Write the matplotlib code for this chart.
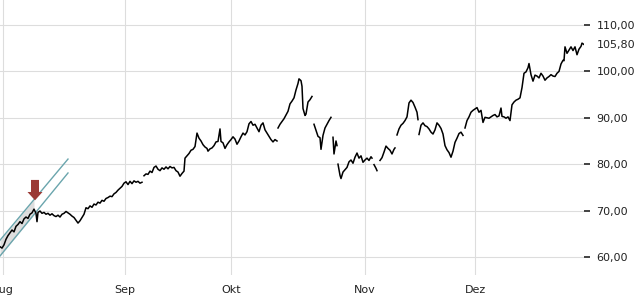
import matplotlib
matplotlib.use('Agg')
import matplotlib.pyplot as plt
from matplotlib.patches import FancyArrow
import numpy as np

# price trace (x in chart units, None marks a gap in the line)
xs = [0, 2, 4, 6, 8, 10, 12, 14, 16, 18, 20, 22, 24, 26, 28, 30, 32, 34, 36, 37, 38, 40,
      42, 44, 46, 48, 50, 52, 54, 56, 58, 60, 62, 64, 66, 68, 70, 72, 74, 76, 78, 80, 82,
      84, 86, 88, 90, 92, 94, 96, 98, 100, 102, 104, 106, 108, 110, 112, 114, 116, 118,
      120, 122, 124, 126, 128, 130, 132, 134, 136, 138, 140, 142, 143,
      144, 146, 148, 150, 152, 154, 156, 158, 160, 162, 164, 166, 168, 170, 172, 174, 176,
      178, 180, 182, 184, 185, 187, 189, 191, 193, 195, 197, 199, 201, 203, 205, 207, 208,
      210, 212, 214, 216, 218, 220, 221, 223, 225, 227, 229, 231, 233, 235, 237, 239, 241,
      243, 245, 247, 249, 251, 253, 255, 257, 259, 261, 263, 265, 267, 269, 271, 273, 275,
      277, 277.5,
      278, 280, 282, 284, 286, 288, 290, 292, 294, 296, 298, 299, 301, 302, 303, 305, 306,
      308, 310, 312, 313,
      314, 316, 318, 320, 321, 323, 325, 327, 329, 331, 332,
      333, 334, 336, 337, 337.5,
      338, 340, 341, 343, 345, 347, 349, 351, 353, 355, 357, 359, 361, 363, 365, 367, 369,
      371, 372, 373,
      374, 376, 377, 378,
      380, 382, 384, 386, 388, 390, 392, 394, 395, 396,
      397, 399, 401, 403, 405, 407, 409, 411, 413, 415, 417, 418, 418.5,
      419, 421, 423, 425, 427, 429, 431, 433, 435, 437, 439, 441, 443, 445, 447, 449, 451,
      453, 455, 457, 459, 461, 463, 464,
      465, 467, 469, 471, 473, 475, 477, 479, 481, 483, 485, 487, 489, 491, 493, 495, 497,
      499, 501, 502, 504, 506, 508, 510, 512, 514, 516, 518, 520, 522, 524, 526, 528, 529,
      531, 533, 535, 537, 539, 541, 543, 545, 547, 549, 551, 553, 555, 557, 559, 561, 563,
      564, 565, 567, 569, 571, 573, 575, 577, 579, 581, 582, 584]
prices = [62.2, 61.9, 62.6, 63.8, 64.6, 65.2, 65.8, 65.4, 66.6, 67.0, 67.6, 67.2, 68.2, 68.6,
          68.3, 69.2, 69.5, 70.3, 69.4, 67.6, 69.6, 69.9,
          69.4, 69.6, 69.2, 69.4, 69.0, 69.3, 68.9, 68.7, 69.0, 68.6, 69.2, 69.4, 69.8, 69.5,
          69.2, 68.8, 68.5, 67.9, 67.3, 67.8, 68.5,
          69.2, 70.6, 70.4, 71.0, 70.7, 71.4, 71.2, 71.8, 71.6, 72.2, 72.0, 72.6, 72.8, 73.1,
          73.0, 73.6, 73.9, 74.4,
          74.8, 75.2, 75.9, 76.2, 75.6, 76.3, 75.8, 76.4, 76.1, 76.3, 75.9, 76.1, None,
          77.5, 77.9, 77.8, 78.5, 78.2, 79.3, 79.6, 78.9, 78.6, 79.2, 78.9, 79.4, 79.0, 79.5,
          79.2, 79.3, 78.6,
          78.3, 77.4, 78.0, 78.5, 81.3, 81.8, 82.3, 83.0, 83.2, 83.8, 86.7, 85.6, 85.0, 84.2,
          83.7, 83.4, 82.8,
          83.3, 83.5, 84.0, 84.8, 84.9, 87.6, 84.9, 84.6, 83.4, 84.2, 84.8, 85.3, 85.9, 85.4,
          84.3, 85.0, 85.9,
          86.7, 86.3, 87.0, 88.7, 89.2, 88.4, 88.6, 87.8, 87.0, 88.4, 88.9, 87.4, 86.7, 86.0,
          85.3, 84.8, 85.3,
          85.0, None,
          87.8, 88.6, 89.2, 89.8, 90.6, 91.4, 93.0, 93.6, 94.3, 96.0, 97.4, 98.4, 98.0, 96.8,
          92.0, 90.5, 90.8,
          93.4, 93.9, 94.6, None,
          88.6, 87.3, 86.0, 85.7, 83.2, 86.2, 87.8, 88.6, 89.4, 90.1, None,
          85.8, 82.2, 85.0, 84.0, None,
          80.0, 77.6, 76.9, 78.3, 78.8, 79.3, 80.5, 80.9, 80.2, 81.5, 82.4, 81.3, 81.8, 80.4,
          80.9, 81.3, 80.8,
          81.6, 81.3, None,
          79.9, 79.1, 78.6, None,
          80.8, 81.4, 82.6, 83.9, 83.4, 83.0, 82.2, 83.2, 83.5, None,
          86.3, 87.6, 88.4, 88.8, 89.4, 90.2, 93.2, 93.8, 93.3, 92.3, 91.2, 89.6, None,
          86.4, 88.4, 88.9, 88.3, 88.1, 87.6, 86.9, 86.5, 87.4, 88.9, 88.4, 87.7, 86.5, 84.0,
          83.1, 82.5, 81.5,
          82.8, 84.7, 85.6, 86.6, 86.9, 86.2, None,
          87.8, 89.4, 90.2, 91.2, 91.6, 91.9, 92.2, 91.2, 91.6, 89.0, 90.1, 90.0, 89.9, 90.2,
          90.5, 90.7, 90.2,
          90.4, 92.1, 90.3, 90.2, 89.9, 90.2, 89.4, 92.8, 93.4, 93.8, 94.0, 94.3, 96.5, 99.6,
          99.9, 100.8, 101.7,
          99.3, 97.9, 99.2, 99.0, 98.6, 99.6, 99.0, 98.1, 98.6, 98.9, 99.3, 99.0, 98.9, 99.6,
          100.0, 101.6, 102.4,
          102.3, 105.3, 103.9, 104.6, 105.3, 104.5, 105.3, 103.6, 104.8, 105.4, 106.1, 105.8]

month_labels = ['Aug', 'Sep', 'Okt', 'Nov', 'Dez']
month_pos = [3, 125, 231, 365, 475]
y_ticks = [60, 70, 80, 90, 100, 110]
last_price = 105.80

# trend channel: (x, price) end points of upper and lower line, fill up to channel_fill_end
channel_x = [0, 68]
channel_upper = [63.6, 81.1]
channel_lower = [60.2, 78.1]
channel_fill_end = 34

# signal arrow
arrow_x = 35
arrow_top = 76.6
arrow_tip = 72.2

y = np.array([np.nan if p is None else p for p in prices], dtype=float)

fig = plt.figure(figsize=(6.4, 3.0), dpi=100)
ax = fig.add_axes([0.0, 25 / 300, 584 / 640, 275 / 300])

ax.grid(True, color='#dddddd', linewidth=0.8)
ax.set_axisbelow(True)

# channel fill
fx = np.array([channel_x[0], channel_fill_end])
slope_u = (channel_upper[1] - channel_upper[0]) / (channel_x[1] - channel_x[0])
slope_l = (channel_lower[1] - channel_lower[0]) / (channel_x[1] - channel_x[0])
ax.fill_between(fx, channel_lower[0] + slope_l * fx, channel_upper[0] + slope_u * fx,
                color='#d6d6d6', alpha=0.8, linewidth=0, zorder=1)
ax.plot(channel_x, channel_upper, color='#6aa5ad', linewidth=1.0, zorder=2)
ax.plot(channel_x, channel_lower, color='#6aa5ad', linewidth=1.0, zorder=2)

ax.plot(xs, y, color='black', linewidth=1.1, zorder=3)

ax.add_patch(FancyArrow(arrow_x, arrow_top, 0, arrow_tip - arrow_top, width=8,
                        head_width=15, head_length=1.8, length_includes_head=True,
                        color='#9b3a35', linewidth=0, zorder=4))

ax.set_xlim(0, 584)
ax.set_ylim(56.1, 115.4)

ax.set_xticks(month_pos)
ax.set_xticklabels(month_labels)
ax.set_yticks(y_ticks)
ax.set_yticklabels([f'{v:.2f}'.replace('.', ',') for v in y_ticks])
ax.yaxis.tick_right()
ax.tick_params(axis='y', direction='out', length=4, width=1.2, color='#222222',
               pad=5, labelsize=8, labelcolor='#222222')
ax.tick_params(axis='x', length=0, pad=7, labelsize=8, labelcolor='#222222')

ax.annotate(f'{last_price:.2f}'.replace('.', ','), xy=(1, last_price),
            xycoords=('axes fraction', 'data'), xytext=(9, 0), textcoords='offset points',
            va='center', ha='left', fontsize=8, color='#222222')

for s in ax.spines.values():
    s.set_visible(False)

fig.savefig('out.png', dpi=100)
